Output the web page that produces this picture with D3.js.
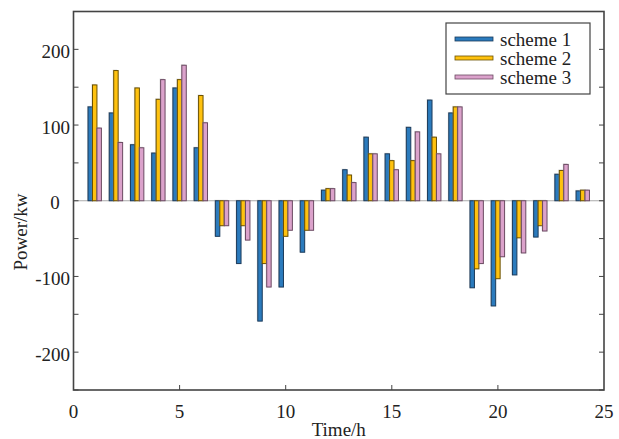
<!DOCTYPE html>
<html><head><meta charset="utf-8">
<script src="https://cdn.jsdelivr.net/npm/d3@7/dist/d3.min.js"></script>
<style>body{margin:0;background:#fff}svg{display:block}text{font-family:"Liberation Serif","Times New Roman",serif;fill:#222}</style>
</head><body><svg id="c" width="619" height="439"></svg>
<script>
const hours = [1,2,3,4,5,6,7,8,9,10,11,12,13,14,15,16,17,18,19,20,21,22,23,24];
const scheme1 = [124,116,74,63,149,70,-47,-83,-159,-114,-68,14,41,84,62,97,133,116,-115,-139,-98,-48,35,13];
const scheme2 = [153,172,149,134,160,139,-33,-33,-83,-47,-39,16,34,62,53,53,84,124,-90,-103,-49,-33,40,14];
const scheme3 = [96,77,70,160,179,103,-33,-52,-114,-39,-39,16,24,62,41,91,62,124,-83,-74,-69,-40,48,14];
const seriesNames = ["scheme 1","scheme 2","scheme 3"];
const xTicks = [0,5,10,15,20,25];
const yTickLabels = [-200,-100,0,100,200];
const yMinor = [-250,-200,-150,-100,-50,0,50,100,150,200,250];

const fills = ["#2b7bbd","#ffc20f","#dba2cb"];
const strokes = ["#1b3a5a","#6a5000","#6b4a62"];

const svg = d3.select("#c");
const L=73.5, R=604, T=11.5, B=390;
const x = d3.scaleLinear().domain([0,25]).range([L,R]);
const y = d3.scaleLinear().domain([-250,250]).range([B,T]);
const data = [scheme1,scheme2,scheme3];
const groupW = 0.63, bw = groupW/3;

// zero line
svg.append("line").attr("x1",L).attr("x2",R).attr("y1",y(0)).attr("y2",y(0)).attr("stroke","#aaa").attr("stroke-width",1.2);

data.forEach((vals,si)=>{
  const g = svg.append("g");
  hours.forEach((h,i)=>{
    const v = vals[i];
    const x0 = x(h - groupW/2 + si*bw);
    const w = x(bw)-x(0);
    const y0 = Math.min(y(v),y(0)), hh = Math.abs(y(v)-y(0));
    g.append("rect").attr("x",x0-1).attr("y",y0-1).attr("width",w).attr("height",hh+1)
      .attr("fill","#999").attr("opacity",0.35);
    g.append("rect").attr("x",x0).attr("y",y0).attr("width",w).attr("height",hh)
      .attr("fill",fills[si]).attr("stroke",strokes[si]).attr("stroke-width",1);
  });
});

// frame
svg.append("rect").attr("x",L).attr("y",T).attr("width",R-L).attr("height",B-T)
  .attr("fill","none").attr("stroke","#444").attr("stroke-width",1.6);

// y ticks
yMinor.forEach(v=>{
  svg.append("line").attr("x1",L).attr("x2",L+5).attr("y1",y(v)).attr("y2",y(v)).attr("stroke","#444");
  svg.append("line").attr("x1",R).attr("x2",R-5).attr("y1",y(v)).attr("y2",y(v)).attr("stroke","#444");
});
yTickLabels.forEach(v=>{
  const t = svg.append("text").attr("y",y(v)+2).attr("dominant-baseline","central").attr("font-size",19).text(v);
  if(v===0) t.attr("x",55).attr("text-anchor","middle"); else t.attr("x",70).attr("text-anchor","end");
});
// x ticks
xTicks.forEach(v=>{
  if(v>0 && v<25) svg.append("line").attr("x1",x(v)).attr("x2",x(v)).attr("y1",B).attr("y2",B-5).attr("stroke","#444");
  svg.append("text").attr("x",x(v)).attr("y",418).attr("text-anchor","middle").attr("font-size",19).text(v);
});
svg.append("text").attr("x",(L+R)/2).attr("y",436).attr("text-anchor","middle").attr("font-size",19).text("Time/h");
svg.append("text").attr("transform","translate(27,232) rotate(-90)").attr("text-anchor","middle").attr("font-size",19).text("Power/kw");

// legend
const lg = svg.append("g");
lg.append("rect").attr("x",446).attr("y",23).attr("width",144).attr("height",71).attr("fill","#fff").attr("stroke","#444").attr("stroke-width",1.2);
seriesNames.forEach((n,i)=>{
  const yy = 39 + i*19;
  lg.append("rect").attr("x",455).attr("y",yy-2).attr("width",38).attr("height",4).attr("fill",fills[i]).attr("stroke",strokes[i]).attr("stroke-width",0.8);
  lg.append("text").attr("x",500).attr("y",yy).attr("dominant-baseline","central").attr("font-size",19).text(n);
});
</script></body></html>
